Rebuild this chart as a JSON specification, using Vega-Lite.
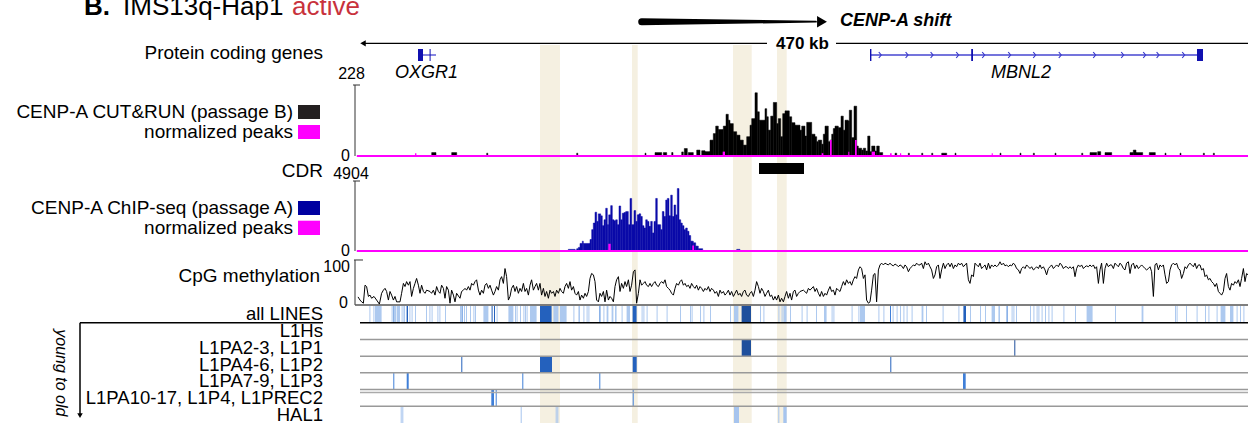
{
"$schema": "https://vega.github.io/schema/vega-lite/v6.json",
"background": "white",
"padding": 0,
"spacing": 0,
"bounds": "flush",
"config": {"view": {"stroke": null}, "axis": {"disable": true}, "legend": {"disable": true}, "font": "Liberation Sans", "text": {"font": "Liberation Sans", "fontSize": 19, "color": "black"}},
"resolve": {"scale": {"y": "independent", "color": "independent", "size": "independent"}},
"data": {"values": [{}]},
"datasets": {
"hl": [{"s":91,"e":101},{"s":137,"e":139.85},{"s":187.5,"e":196.85},{"s":209.5,"e":214.35}],
"shift": [{"k":141.85,"f":1},{"k":229,"f":0.25}],
"scalebar": [{"s":2,"e":204.5},{"s":239,"e":445}],
"exons": [{"s":30,"e":32.5},{"s":35.8,"e":36.3},{"s":256,"e":256.7},{"s":306.6,"e":307.5},{"s":419.5,"e":422.5}],
"introns": [{"s":32.5,"e":39},{"s":256.3,"e":422}],
"chev": [{"k":261},{"k":274.4},{"k":286.9},{"k":299.7},{"k":312.7},{"k":325.7},{"k":338.2},{"k":351},{"k":368.2},{"k":382.2},{"k":393.2},{"k":399.9},{"k":412.7}],
"glab": [{"g":"OXGR1","k":34.3},{"g":"MBNL2","k":331.5}],
"cut": [{"s":36.85,"e":39,"v":11},{"s":46.85,"e":49.35,"v":11},{"s":64.35,"e":64.9,"v":9},{"s":109.35,"e":109.9,"v":9},{"s":143.5,"e":144,"v":9},{"s":148.5,"e":151.85,"v":11},{"s":152.65,"e":154.35,"v":11},{"s":156.85,"e":157.5,"v":11},{"s":161.85,"e":162.65,"v":13},{"s":163.15,"e":164.65,"v":24},{"s":165.15,"e":167.65,"v":11},{"s":169.35,"e":171,"v":19},{"s":171.85,"e":173.5,"v":17},{"s":173.5,"e":176,"v":14},{"s":176,"e":177.65,"v":51},{"s":177.65,"e":178.85,"v":72},{"s":178.85,"e":180.15,"v":96},{"s":180.15,"e":182.65,"v":85},{"s":182.65,"e":184,"v":96},{"s":184,"e":185.15,"v":134},{"s":185.15,"e":186,"v":115},{"s":186,"e":187.65,"v":104},{"s":187.65,"e":189.35,"v":78},{"s":189.35,"e":191,"v":67},{"s":191,"e":192.65,"v":51},{"s":192.65,"e":194.35,"v":35},{"s":194.35,"e":196,"v":62},{"s":196,"e":196.85,"v":99},{"s":196.85,"e":198.5,"v":120},{"s":198.5,"e":199.65,"v":203},{"s":199.65,"e":200.65,"v":142},{"s":200.65,"e":203.5,"v":115},{"s":203.5,"e":204.35,"v":152},{"s":204.35,"e":205.15,"v":126},{"s":205.15,"e":206.35,"v":83},{"s":206.35,"e":207.65,"v":128},{"s":207.65,"e":209.35,"v":172},{"s":209.35,"e":210.15,"v":104},{"s":210.15,"e":211.35,"v":120},{"s":211.35,"e":212.35,"v":62},{"s":212.35,"e":213.5,"v":136},{"s":213.5,"e":215.65,"v":145},{"s":215.65,"e":216.85,"v":126},{"s":216.85,"e":218.5,"v":107},{"s":218.5,"e":221,"v":99},{"s":221,"e":221.85,"v":83},{"s":221.85,"e":223.5,"v":96},{"s":223.5,"e":224.35,"v":64},{"s":224.35,"e":226.85,"v":108},{"s":226.85,"e":228.5,"v":70},{"s":228.5,"e":229.35,"v":62},{"s":229.35,"e":230.15,"v":46},{"s":230.15,"e":231.85,"v":51},{"s":231.85,"e":232.65,"v":38},{"s":232.65,"e":233.5,"v":70},{"s":233.5,"e":235.15,"v":96},{"s":235.15,"e":236,"v":46},{"s":236,"e":236.85,"v":51},{"s":236.85,"e":237.65,"v":70},{"s":237.65,"e":238.5,"v":88},{"s":238.5,"e":240.15,"v":96},{"s":240.15,"e":241.5,"v":91},{"s":241.5,"e":242.65,"v":128},{"s":242.65,"e":243.5,"v":83},{"s":243.5,"e":245.15,"v":115},{"s":245.15,"e":245.65,"v":112},{"s":245.65,"e":246.85,"v":147},{"s":246.85,"e":248,"v":59},{"s":248,"e":249.35,"v":160},{"s":249.35,"e":250.15,"v":32},{"s":250.15,"e":251.85,"v":25},{"s":251.85,"e":252.65,"v":19},{"s":252.65,"e":253.85,"v":25},{"s":253.85,"e":254.85,"v":16},{"s":254.85,"e":256,"v":64},{"s":256,"e":256.85,"v":14},{"s":256.85,"e":258.5,"v":32},{"s":258.5,"e":259.35,"v":16},{"s":259.35,"e":260.65,"v":32},{"s":260.65,"e":262.35,"v":11},{"s":268.5,"e":269.35,"v":9},{"s":275.15,"e":275.7,"v":9},{"s":281.85,"e":282.4,"v":9},{"s":286.85,"e":287.4,"v":9},{"s":291.85,"e":294.35,"v":9},{"s":298.5,"e":299,"v":9},{"s":321,"e":321.5,"v":9},{"s":331,"e":331.5,"v":9},{"s":337.65,"e":338.2,"v":9},{"s":348.5,"e":349,"v":9},{"s":361.85,"e":362.4,"v":9},{"s":366,"e":369.35,"v":11},{"s":369.85,"e":371.35,"v":14},{"s":373.5,"e":376.85,"v":11},{"s":386,"e":387.65,"v":11},{"s":387.65,"e":389,"v":19},{"s":389,"e":392.35,"v":11},{"s":395.65,"e":398.65,"v":11},{"s":403.5,"e":404,"v":9},{"s":411,"e":411.5,"v":9},{"s":422.65,"e":423.2,"v":9},{"s":427.65,"e":428.2,"v":9}],
"cutpk": [{"s":28.5,"e":29.2,"v":9},{"s":182.35,"e":183.5,"v":14},{"s":231.85,"e":232.65,"v":9},{"s":236,"e":236.85,"v":51},{"s":245.15,"e":245.65,"v":14},{"s":248.5,"e":249.35,"v":51},{"s":256.85,"e":258.5,"v":14},{"s":266,"e":266.85,"v":9},{"s":271,"e":271.6,"v":9},{"s":316.85,"e":317.4,"v":9}],
"chip": [{"s":105.15,"e":108.5,"v":115},{"s":108.5,"e":109.35,"v":69},{"s":109.35,"e":110.15,"v":161},{"s":110.15,"e":111,"v":253},{"s":111,"e":112.15,"v":529},{"s":112.15,"e":112.65,"v":690},{"s":112.65,"e":116,"v":529},{"s":116,"e":116.85,"v":806},{"s":116.85,"e":117.65,"v":1496},{"s":117.65,"e":118.5,"v":1957},{"s":118.5,"e":119.35,"v":2716},{"s":119.35,"e":120.15,"v":2072},{"s":120.15,"e":121.35,"v":2601},{"s":121.35,"e":122.15,"v":2463},{"s":122.15,"e":123,"v":1773},{"s":123,"e":123.85,"v":2187},{"s":123.85,"e":124.65,"v":2993},{"s":124.65,"e":125.35,"v":1842},{"s":125.35,"e":126.35,"v":2532},{"s":126.35,"e":127.15,"v":3177},{"s":127.15,"e":128,"v":2187},{"s":128,"e":128.85,"v":2118},{"s":128.85,"e":129.65,"v":2187},{"s":129.65,"e":130.5,"v":1842},{"s":130.5,"e":131.35,"v":3154},{"s":131.35,"e":132.15,"v":2187},{"s":132.15,"e":133,"v":2647},{"s":133,"e":133.85,"v":2693},{"s":133.85,"e":135.15,"v":2762},{"s":135.15,"e":136,"v":1842},{"s":136,"e":136.85,"v":3683},{"s":136.85,"e":138,"v":1842},{"s":138,"e":138.85,"v":2831},{"s":138.85,"e":139.65,"v":2072},{"s":139.65,"e":140.5,"v":2532},{"s":140.5,"e":141.35,"v":2601},{"s":141.35,"e":142.15,"v":2417},{"s":142.15,"e":143,"v":1773},{"s":143,"e":143.85,"v":1611},{"s":143.85,"e":144.65,"v":2187},{"s":144.65,"e":145.5,"v":2072},{"s":145.5,"e":146.35,"v":1727},{"s":146.35,"e":147.15,"v":2072},{"s":147.15,"e":148,"v":1266},{"s":148,"e":148.85,"v":2072},{"s":148.85,"e":149.65,"v":3683},{"s":149.65,"e":150.5,"v":1842},{"s":150.5,"e":151.35,"v":1842},{"s":151.35,"e":152.15,"v":1496},{"s":152.15,"e":153,"v":2762},{"s":153,"e":153.85,"v":2417},{"s":153.85,"e":154.65,"v":3568},{"s":154.65,"e":155.5,"v":3683},{"s":155.5,"e":156.35,"v":2463},{"s":156.35,"e":157.15,"v":3913},{"s":157.15,"e":158,"v":2417},{"s":158,"e":158.85,"v":3223},{"s":158.85,"e":159.65,"v":2532},{"s":159.65,"e":160.5,"v":4374},{"s":160.5,"e":161.35,"v":2187},{"s":161.35,"e":162.15,"v":1957},{"s":162.15,"e":163,"v":1773},{"s":163,"e":163.85,"v":1496},{"s":163.85,"e":164.65,"v":1611},{"s":164.65,"e":165.5,"v":1381},{"s":165.5,"e":166.35,"v":1082},{"s":166.35,"e":167.65,"v":690},{"s":167.65,"e":168.85,"v":575},{"s":168.85,"e":170.15,"v":345},{"s":170.15,"e":172.35,"v":161},{"s":189.35,"e":191,"v":115}],
"chippk": [{"s":125.15,"e":126.35,"v":506},{"s":167.15,"e":168,"v":391}],
"meth": [{"k":0,"m":18},{"k":1,"m":11},{"k":1.8,"m":7},{"k":2.7,"m":4},{"k":3.5,"m":44},{"k":4.3,"m":41},{"k":5.2,"m":19},{"k":6,"m":22},{"k":6.8,"m":15},{"k":8,"m":19},{"k":9.3,"m":11},{"k":10.7,"m":2},{"k":11.8,"m":26},{"k":12.7,"m":33},{"k":13.5,"m":37},{"k":14.3,"m":30},{"k":15.2,"m":11},{"k":16,"m":30},{"k":16.8,"m":22},{"k":17.7,"m":11},{"k":18.5,"m":19},{"k":19.3,"m":7},{"k":21,"m":7},{"k":21.8,"m":26},{"k":22.7,"m":48},{"k":23.5,"m":41},{"k":24.3,"m":52},{"k":25.2,"m":44},{"k":26,"m":52},{"k":26.8,"m":19},{"k":27.7,"m":37},{"k":28.5,"m":48},{"k":29.3,"m":59},{"k":30.2,"m":44},{"k":31,"m":26},{"k":31.8,"m":44},{"k":32.7,"m":30},{"k":33.5,"m":26},{"k":34.3,"m":33},{"k":36,"m":30},{"k":36.8,"m":26},{"k":37.7,"m":33},{"k":38.5,"m":22},{"k":39.3,"m":41},{"k":40.2,"m":30},{"k":41,"m":26},{"k":41.8,"m":44},{"k":42.7,"m":37},{"k":43.5,"m":15},{"k":44.3,"m":41},{"k":45.2,"m":33},{"k":46,"m":4},{"k":46.8,"m":33},{"k":47.7,"m":22},{"k":48.5,"m":7},{"k":49.3,"m":26},{"k":51,"m":15},{"k":51.8,"m":30},{"k":52.7,"m":33},{"k":53.5,"m":37},{"k":54.3,"m":33},{"k":55.2,"m":41},{"k":56,"m":33},{"k":56.8,"m":48},{"k":57.7,"m":44},{"k":58.5,"m":52},{"k":59.3,"m":56},{"k":60.2,"m":33},{"k":61,"m":22},{"k":61.8,"m":33},{"k":62.7,"m":26},{"k":63.5,"m":44},{"k":64.3,"m":48},{"k":65.2,"m":37},{"k":66,"m":44},{"k":66.8,"m":33},{"k":67.7,"m":22},{"k":68.5,"m":30},{"k":69.3,"m":41},{"k":70.2,"m":33},{"k":71,"m":56},{"k":71.8,"m":63},{"k":72.7,"m":48},{"k":73.5,"m":81},{"k":74.3,"m":63},{"k":75.2,"m":11},{"k":76,"m":19},{"k":76.8,"m":37},{"k":77.7,"m":44},{"k":78.5,"m":30},{"k":79.3,"m":41},{"k":80.2,"m":26},{"k":81,"m":37},{"k":81.8,"m":30},{"k":82.7,"m":48},{"k":83.5,"m":30},{"k":84.3,"m":37},{"k":85.2,"m":22},{"k":86,"m":44},{"k":86.8,"m":56},{"k":87.7,"m":33},{"k":88.5,"m":41},{"k":89.3,"m":48},{"k":90.2,"m":33},{"k":91,"m":48},{"k":91.8,"m":22},{"k":92.7,"m":37},{"k":93.5,"m":19},{"k":94.3,"m":30},{"k":95.2,"m":15},{"k":96,"m":33},{"k":96.8,"m":26},{"k":97.7,"m":30},{"k":98.5,"m":19},{"k":99.3,"m":33},{"k":100.2,"m":26},{"k":101,"m":37},{"k":101.8,"m":30},{"k":102.7,"m":26},{"k":103.5,"m":41},{"k":104.3,"m":48},{"k":105.2,"m":37},{"k":106,"m":52},{"k":106.8,"m":33},{"k":107.7,"m":41},{"k":108.5,"m":26},{"k":109.3,"m":22},{"k":110.2,"m":30},{"k":111,"m":11},{"k":111.8,"m":22},{"k":112.7,"m":15},{"k":113.5,"m":26},{"k":114.3,"m":19},{"k":115.2,"m":30},{"k":116,"m":59},{"k":116.8,"m":70},{"k":117.7,"m":67},{"k":118.5,"m":52},{"k":119.3,"m":11},{"k":120.2,"m":7},{"k":121,"m":26},{"k":121.8,"m":19},{"k":122.7,"m":30},{"k":123.5,"m":7},{"k":124.3,"m":33},{"k":125.2,"m":11},{"k":126,"m":19},{"k":126.8,"m":15},{"k":127.7,"m":7},{"k":128.5,"m":41},{"k":129.3,"m":56},{"k":130.2,"m":63},{"k":131,"m":30},{"k":131.8,"m":48},{"k":132.7,"m":37},{"k":133.5,"m":52},{"k":134.3,"m":41},{"k":135.2,"m":56},{"k":136,"m":30},{"k":136.8,"m":44},{"k":137.7,"m":74},{"k":138.5,"m":78},{"k":139.3,"m":4},{"k":140.2,"m":26},{"k":141,"m":56},{"k":141.8,"m":44},{"k":142.7,"m":48},{"k":143.5,"m":52},{"k":144.3,"m":44},{"k":145.2,"m":41},{"k":146,"m":48},{"k":146.8,"m":41},{"k":147.7,"m":48},{"k":148.5,"m":52},{"k":149.3,"m":44},{"k":150.2,"m":41},{"k":151,"m":48},{"k":151.8,"m":52},{"k":152.7,"m":48},{"k":153.5,"m":56},{"k":154.3,"m":41},{"k":155.2,"m":37},{"k":156,"m":33},{"k":156.8,"m":26},{"k":157.7,"m":22},{"k":158.5,"m":37},{"k":159.3,"m":48},{"k":160.2,"m":44},{"k":161,"m":52},{"k":161.8,"m":56},{"k":162.7,"m":44},{"k":163.5,"m":48},{"k":164.3,"m":41},{"k":165.2,"m":44},{"k":166,"m":37},{"k":166.8,"m":48},{"k":167.7,"m":41},{"k":168.5,"m":37},{"k":169.3,"m":44},{"k":170.2,"m":33},{"k":171,"m":41},{"k":171.8,"m":37},{"k":172.7,"m":30},{"k":173.5,"m":37},{"k":174.3,"m":33},{"k":175.2,"m":41},{"k":176,"m":30},{"k":176.8,"m":37},{"k":177.7,"m":33},{"k":178.5,"m":26},{"k":179.3,"m":30},{"k":180.2,"m":19},{"k":181,"m":33},{"k":181.8,"m":26},{"k":182.7,"m":30},{"k":183.5,"m":22},{"k":184.3,"m":26},{"k":185.2,"m":33},{"k":186,"m":22},{"k":186.8,"m":30},{"k":187.7,"m":19},{"k":188.5,"m":26},{"k":189.3,"m":33},{"k":190.2,"m":22},{"k":191,"m":26},{"k":191.8,"m":19},{"k":192.7,"m":30},{"k":193.5,"m":33},{"k":194.3,"m":22},{"k":195.2,"m":19},{"k":196,"m":26},{"k":196.8,"m":30},{"k":197.7,"m":19},{"k":198.5,"m":33},{"k":199.3,"m":52},{"k":200.2,"m":41},{"k":201,"m":26},{"k":201.8,"m":37},{"k":202.7,"m":30},{"k":203.5,"m":19},{"k":204.3,"m":26},{"k":205.2,"m":33},{"k":206,"m":19},{"k":206.8,"m":22},{"k":207.7,"m":11},{"k":208.5,"m":19},{"k":209.3,"m":11},{"k":210.2,"m":22},{"k":211,"m":7},{"k":211.8,"m":15},{"k":212.7,"m":7},{"k":213.5,"m":19},{"k":214.3,"m":30},{"k":215.2,"m":15},{"k":216,"m":26},{"k":216.8,"m":11},{"k":217.7,"m":30},{"k":218.5,"m":33},{"k":219.3,"m":19},{"k":220.2,"m":26},{"k":221,"m":30},{"k":222.7,"m":33},{"k":224.3,"m":26},{"k":225.2,"m":37},{"k":226,"m":33},{"k":227.7,"m":41},{"k":228.5,"m":30},{"k":229.3,"m":37},{"k":230.2,"m":26},{"k":231,"m":19},{"k":231.8,"m":30},{"k":232.7,"m":19},{"k":233.5,"m":26},{"k":234.3,"m":22},{"k":235.2,"m":33},{"k":236,"m":41},{"k":236.8,"m":30},{"k":237.7,"m":33},{"k":238.5,"m":22},{"k":239.3,"m":37},{"k":240.2,"m":33},{"k":241,"m":30},{"k":241.8,"m":41},{"k":242.7,"m":52},{"k":243.5,"m":44},{"k":244.3,"m":56},{"k":245.2,"m":48},{"k":246,"m":52},{"k":246.8,"m":44},{"k":247.7,"m":56},{"k":248.5,"m":63},{"k":249.3,"m":59},{"k":250.2,"m":78},{"k":251,"m":85},{"k":251.8,"m":81},{"k":252.7,"m":59},{"k":253.5,"m":67},{"k":254.3,"m":11},{"k":255.2,"m":4},{"k":256,"m":7},{"k":256.8,"m":33},{"k":257.7,"m":67},{"k":258.5,"m":70},{"k":259.3,"m":7},{"k":260.2,"m":78},{"k":261,"m":89},{"k":261.8,"m":93},{"k":262.7,"m":89},{"k":263.5,"m":93},{"k":264.3,"m":91},{"k":265.2,"m":89},{"k":266,"m":93},{"k":266.8,"m":89},{"k":267.7,"m":87},{"k":268.5,"m":91},{"k":269.3,"m":89},{"k":270.2,"m":85},{"k":271,"m":89},{"k":271.8,"m":87},{"k":272.7,"m":81},{"k":273.5,"m":89},{"k":274.3,"m":85},{"k":275.2,"m":74},{"k":276,"m":81},{"k":276.8,"m":85},{"k":277.7,"m":89},{"k":278.5,"m":87},{"k":279.3,"m":93},{"k":280.2,"m":89},{"k":281,"m":89},{"k":281.8,"m":93},{"k":282.7,"m":81},{"k":283.5,"m":96},{"k":284.3,"m":89},{"k":285.2,"m":93},{"k":286,"m":85},{"k":286.8,"m":78},{"k":287.7,"m":59},{"k":288.5,"m":67},{"k":289.3,"m":85},{"k":290.2,"m":89},{"k":291,"m":59},{"k":291.8,"m":78},{"k":292.7,"m":93},{"k":293.5,"m":81},{"k":294.3,"m":89},{"k":295.2,"m":93},{"k":296,"m":85},{"k":296.8,"m":93},{"k":297.7,"m":81},{"k":298.5,"m":89},{"k":299.3,"m":85},{"k":300.2,"m":93},{"k":301,"m":89},{"k":301.8,"m":93},{"k":302.7,"m":85},{"k":303.5,"m":89},{"k":304.3,"m":93},{"k":305.2,"m":56},{"k":306,"m":48},{"k":306.8,"m":67},{"k":307.7,"m":63},{"k":308.5,"m":93},{"k":309.3,"m":89},{"k":310.2,"m":85},{"k":311,"m":93},{"k":311.8,"m":81},{"k":312.7,"m":85},{"k":313.5,"m":89},{"k":314.3,"m":78},{"k":315.2,"m":93},{"k":316,"m":81},{"k":316.8,"m":89},{"k":317.7,"m":85},{"k":318.5,"m":89},{"k":319.3,"m":85},{"k":320.2,"m":89},{"k":321,"m":96},{"k":321.8,"m":89},{"k":322.7,"m":93},{"k":323.5,"m":87},{"k":324.3,"m":89},{"k":325.2,"m":85},{"k":326,"m":89},{"k":326.8,"m":87},{"k":327.7,"m":93},{"k":328.5,"m":89},{"k":329.3,"m":81},{"k":330.2,"m":78},{"k":331,"m":70},{"k":331.8,"m":81},{"k":332.7,"m":85},{"k":333.5,"m":81},{"k":334.3,"m":89},{"k":335.2,"m":85},{"k":336,"m":81},{"k":336.8,"m":85},{"k":337.7,"m":78},{"k":338.5,"m":81},{"k":339.3,"m":85},{"k":340.2,"m":81},{"k":341,"m":89},{"k":341.8,"m":81},{"k":342.7,"m":85},{"k":343.5,"m":78},{"k":344.3,"m":67},{"k":345.2,"m":81},{"k":346,"m":85},{"k":346.8,"m":89},{"k":347.7,"m":81},{"k":348.5,"m":85},{"k":349.3,"m":89},{"k":350.2,"m":85},{"k":351,"m":93},{"k":351.8,"m":89},{"k":352.7,"m":81},{"k":353.5,"m":85},{"k":354.3,"m":85},{"k":355.2,"m":81},{"k":356,"m":85},{"k":356.8,"m":81},{"k":357.7,"m":85},{"k":358.5,"m":63},{"k":359.3,"m":81},{"k":360.2,"m":89},{"k":361,"m":85},{"k":361.8,"m":89},{"k":362.7,"m":81},{"k":363.5,"m":85},{"k":364.3,"m":87},{"k":365.2,"m":85},{"k":366,"m":89},{"k":366.8,"m":85},{"k":367.7,"m":89},{"k":368.5,"m":81},{"k":369.3,"m":85},{"k":370.2,"m":48},{"k":371,"m":78},{"k":371.8,"m":93},{"k":372.7,"m":48},{"k":373.5,"m":81},{"k":374.3,"m":93},{"k":375.2,"m":85},{"k":376,"m":89},{"k":376.8,"m":89},{"k":377.7,"m":81},{"k":378.5,"m":93},{"k":379.3,"m":89},{"k":380.2,"m":85},{"k":381,"m":93},{"k":381.8,"m":89},{"k":382.7,"m":81},{"k":383.5,"m":78},{"k":384.3,"m":93},{"k":385.2,"m":96},{"k":386,"m":70},{"k":386.8,"m":89},{"k":387.7,"m":93},{"k":388.5,"m":81},{"k":389.3,"m":89},{"k":390.2,"m":81},{"k":391,"m":85},{"k":391.8,"m":89},{"k":392.7,"m":85},{"k":393.5,"m":81},{"k":394.3,"m":78},{"k":395.2,"m":81},{"k":396,"m":85},{"k":396.8,"m":74},{"k":397.7,"m":19},{"k":398.5,"m":89},{"k":399.3,"m":93},{"k":400.2,"m":78},{"k":401,"m":89},{"k":401.8,"m":85},{"k":402.7,"m":89},{"k":403.5,"m":67},{"k":404.3,"m":48},{"k":405.2,"m":52},{"k":406,"m":78},{"k":406.8,"m":89},{"k":407.7,"m":93},{"k":408.5,"m":89},{"k":409.3,"m":93},{"k":410.2,"m":81},{"k":411,"m":78},{"k":411.8,"m":59},{"k":412.7,"m":70},{"k":413.5,"m":85},{"k":414.3,"m":81},{"k":415.2,"m":89},{"k":416,"m":93},{"k":416.8,"m":89},{"k":417.7,"m":85},{"k":418.5,"m":93},{"k":419.3,"m":81},{"k":420.2,"m":89},{"k":421,"m":89},{"k":421.8,"m":78},{"k":422.7,"m":81},{"k":423.5,"m":63},{"k":424.3,"m":67},{"k":425.2,"m":56},{"k":426,"m":59},{"k":426.8,"m":52},{"k":427.7,"m":48},{"k":428.5,"m":41},{"k":429.3,"m":48},{"k":430.2,"m":30},{"k":431,"m":26},{"k":431.8,"m":22},{"k":432.7,"m":30},{"k":433.5,"m":59},{"k":434.3,"m":70},{"k":435.2,"m":41},{"k":436,"m":33},{"k":436.8,"m":48},{"k":437.7,"m":44},{"k":438.5,"m":52},{"k":439.3,"m":48},{"k":440.2,"m":56},{"k":441,"m":41},{"k":441.8,"m":59},{"k":442.7,"m":81},{"k":443.5,"m":52},{"k":444.3,"m":70},{"k":445,"m":67}],
"rows": [{"r":"all LINES"},{"r":"L1Hs"},{"r":"L1PA2-3, L1P1"},{"r":"L1PA4-6, L1P2"},{"r":"L1PA7-9, L1P3"},{"r":"L1PA10-17, L1P4, L1PREC2"},{"r":"HAL1"}],
"seps": [{"r":"L1PA2-3, L1P1"},{"r":"L1PA4-6, L1P2"},{"r":"L1PA7-9, L1P3"},{"r":"L1PA10-17, L1P4, L1PREC2"},{"r":"HAL1"}],
"lines": [
{"r":"all LINES","s":5.7,"e":6.2,"c":"light"},{"r":"all LINES","s":7.7,"e":8.2,"c":"light"},{"r":"all LINES","s":16.8,"e":17.3,"c":"light"},{"r":"all LINES","s":18.5,"e":19,"c":"light"},{"r":"all LINES","s":21.8,"e":22.3,"c":"light"},{"r":"all LINES","s":25.7,"e":26.2,"c":"light"},{"r":"all LINES","s":26.8,"e":27.3,"c":"light"},{"r":"all LINES","s":28.5,"e":29,"c":"light"},{"r":"all LINES","s":34,"e":34.5,"c":"light"},{"r":"all LINES","s":35.7,"e":36.2,"c":"light"},{"r":"all LINES","s":36.8,"e":37.3,"c":"light"},{"r":"all LINES","s":39.7,"e":40.2,"c":"light"},{"r":"all LINES","s":40.7,"e":41.2,"c":"light"},{"r":"all LINES","s":43.5,"e":44,"c":"light"},{"r":"all LINES","s":51,"e":51.5,"c":"light"},{"r":"all LINES","s":53,"e":53.5,"c":"light"},{"r":"all LINES","s":54,"e":54.5,"c":"light"},{"r":"all LINES","s":56,"e":56.5,"c":"light"},{"r":"all LINES","s":57.7,"e":58.2,"c":"light"},{"r":"all LINES","s":58.5,"e":59,"c":"light"},{"r":"all LINES","s":69.3,"e":69.8,"c":"light"},{"r":"all LINES","s":78.5,"e":79,"c":"light"},{"r":"all LINES","s":79.3,"e":79.8,"c":"light"},{"r":"all LINES","s":81,"e":81.5,"c":"light"},{"r":"all LINES","s":82.7,"e":83.2,"c":"light"},{"r":"all LINES","s":83.5,"e":84,"c":"light"},{"r":"all LINES","s":84.3,"e":84.8,"c":"light"},{"r":"all LINES","s":107.7,"e":108.2,"c":"light"},{"r":"all LINES","s":112.7,"e":113.2,"c":"light"},{"r":"all LINES","s":114.3,"e":114.8,"c":"light"},{"r":"all LINES","s":115.2,"e":115.7,"c":"light"},{"r":"all LINES","s":122.7,"e":123.2,"c":"light"},{"r":"all LINES","s":131.8,"e":132.3,"c":"light"},{"r":"all LINES","s":141.8,"e":142.3,"c":"light"},{"r":"all LINES","s":142.7,"e":143.2,"c":"light"},{"r":"all LINES","s":144.3,"e":144.8,"c":"light"},{"r":"all LINES","s":149.3,"e":149.8,"c":"light"},{"r":"all LINES","s":154.3,"e":154.8,"c":"light"},{"r":"all LINES","s":161,"e":161.5,"c":"light"},{"r":"all LINES","s":166,"e":166.5,"c":"light"},{"r":"all LINES","s":166.8,"e":167.3,"c":"light"},{"r":"all LINES","s":171,"e":171.5,"c":"light"},{"r":"all LINES","s":172.7,"e":173.2,"c":"light"},{"r":"all LINES","s":176,"e":176.5,"c":"light"},{"r":"all LINES","s":186,"e":186.5,"c":"light"},{"r":"all LINES","s":201,"e":201.5,"c":"light"},{"r":"all LINES","s":202.7,"e":203.2,"c":"light"},{"r":"all LINES","s":210.2,"e":210.7,"c":"light"},{"r":"all LINES","s":211.8,"e":212.3,"c":"light"},{"r":"all LINES","s":216,"e":216.5,"c":"light"},{"r":"all LINES","s":221.8,"e":222.3,"c":"light"},{"r":"all LINES","s":224.3,"e":224.8,"c":"light"},{"r":"all LINES","s":229,"e":229.5,"c":"light"},{"r":"all LINES","s":236.8,"e":237.3,"c":"light"},{"r":"all LINES","s":237.7,"e":238.2,"c":"light"},{"r":"all LINES","s":246.8,"e":247.3,"c":"light"},{"r":"all LINES","s":250.2,"e":250.7,"c":"light"},{"r":"all LINES","s":260.2,"e":260.7,"c":"light"},{"r":"all LINES","s":262.7,"e":263.2,"c":"light"},{"r":"all LINES","s":267.3,"e":267.8,"c":"light"},{"r":"all LINES","s":269.3,"e":269.8,"c":"light"},{"r":"all LINES","s":271,"e":271.5,"c":"light"},{"r":"all LINES","s":272.7,"e":273.2,"c":"light"},{"r":"all LINES","s":274.3,"e":274.8,"c":"light"},{"r":"all LINES","s":276.8,"e":277.3,"c":"light"},{"r":"all LINES","s":284,"e":284.5,"c":"light"},{"r":"all LINES","s":292.3,"e":292.8,"c":"light"},{"r":"all LINES","s":300.2,"e":300.7,"c":"light"},{"r":"all LINES","s":306,"e":306.5,"c":"light"},{"r":"all LINES","s":311,"e":311.5,"c":"light"},{"r":"all LINES","s":313.5,"e":314,"c":"light"},{"r":"all LINES","s":326.8,"e":327.3,"c":"light"},{"r":"all LINES","s":327.7,"e":328.2,"c":"light"},{"r":"all LINES","s":329,"e":329.5,"c":"light"},{"r":"all LINES","s":336,"e":336.5,"c":"light"},{"r":"all LINES","s":337.7,"e":338.2,"c":"light"},{"r":"all LINES","s":339.3,"e":339.8,"c":"light"},{"r":"all LINES","s":340.2,"e":340.7,"c":"light"},{"r":"all LINES","s":341.8,"e":342.3,"c":"light"},{"r":"all LINES","s":343.5,"e":344,"c":"light"},{"r":"all LINES","s":345.2,"e":345.7,"c":"light"},{"r":"all LINES","s":346.8,"e":347.3,"c":"light"},{"r":"all LINES","s":352.7,"e":353.2,"c":"light"},{"r":"all LINES","s":358.5,"e":359,"c":"light"},{"r":"all LINES","s":378.5,"e":379,"c":"light"},{"r":"all LINES","s":408.5,"e":409,"c":"light"},{"r":"all LINES","s":409.3,"e":409.8,"c":"light"},{"r":"all LINES","s":414,"e":414.5,"c":"light"},{"r":"all LINES","s":419.3,"e":419.8,"c":"light"},{"r":"all LINES","s":423.5,"e":424,"c":"light"},{"r":"all LINES","s":425.2,"e":425.7,"c":"light"},{"r":"all LINES","s":429.3,"e":429.8,"c":"light"},{"r":"all LINES","s":439.3,"e":439.8,"c":"light"},{"r":"all LINES","s":441,"e":441.5,"c":"light"},{"r":"all LINES","s":442.7,"e":443.2,"c":"light"},
{"r":"all LINES","s":8.5,"e":11.8,"c":"light"},{"r":"all LINES","s":19.3,"e":21,"c":"light"},{"r":"all LINES","s":22.7,"e":23.5,"c":"light"},{"r":"all LINES","s":62.7,"e":65.2,"c":"light"},{"r":"all LINES","s":75.2,"e":77.7,"c":"light"},{"r":"all LINES","s":86,"e":89.3,"c":"light"},{"r":"all LINES","s":97.7,"e":100.2,"c":"light"},{"r":"all LINES","s":101,"e":104.3,"c":"light"},{"r":"all LINES","s":110.2,"e":111,"c":"light"},{"r":"all LINES","s":124.3,"e":125.2,"c":"light"},{"r":"all LINES","s":126.8,"e":127.7,"c":"light"},{"r":"all LINES","s":128.5,"e":129.3,"c":"light"},{"r":"all LINES","s":134.3,"e":136,"c":"light"},{"r":"all LINES","s":188,"e":190.2,"c":"light"},{"r":"all LINES","s":212.7,"e":214.3,"c":"light"},{"r":"all LINES","s":233,"e":234.3,"c":"light"},{"r":"all LINES","s":251,"e":253.5,"c":"light"},{"r":"all LINES","s":281.8,"e":282.7,"c":"light"},{"r":"all LINES","s":316.8,"e":318.5,"c":"light"},{"r":"all LINES","s":320.2,"e":321,"c":"light"},{"r":"all LINES","s":364.3,"e":367.3,"c":"light"},{"r":"all LINES","s":391.8,"e":392.7,"c":"light"},{"r":"all LINES","s":431.3,"e":433.7,"c":"light"},{"r":"all LINES","s":436,"e":437.7,"c":"light"},
{"r":"all LINES","s":17.7,"e":18.2,"c":"mid"},{"r":"all LINES","s":51.8,"e":52.3,"c":"mid"},{"r":"all LINES","s":120.7,"e":121.2,"c":"mid"},{"r":"all LINES","s":266,"e":266.5,"c":"mid"},{"r":"all LINES","s":324.3,"e":324.8,"c":"mid"},
{"r":"all LINES","s":24.3,"e":25,"c":"dark"},{"r":"all LINES","s":66.8,"e":67.3,"c":"dark"},{"r":"all LINES","s":68,"e":68.5,"c":"dark"},{"r":"all LINES","s":91,"e":96.8,"c":"dark"},{"r":"all LINES","s":137.3,"e":139.3,"c":"dark"},{"r":"all LINES","s":302.7,"e":304,"c":"dark"},{"r":"all LINES","s":191.8,"e":196.5,"c":"darker"},
{"r":"L1PA2-3, L1P1","s":191.85,"e":196.5,"c":"darker"},{"r":"L1PA2-3, L1P1","s":328.15,"e":328.65,"c":"darker"},
{"r":"L1PA4-6, L1P2","s":51.65,"e":52.15,"c":"dark"},{"r":"L1PA4-6, L1P2","s":91,"e":97,"c":"dark"},{"r":"L1PA4-6, L1P2","s":137.35,"e":139.35,"c":"dark"},{"r":"L1PA4-6, L1P2","s":266.15,"e":266.65,"c":"dark"},
{"r":"L1PA7-9, L1P3","s":17.65,"e":18.15,"c":"mid"},{"r":"L1PA7-9, L1P3","s":24.35,"e":25.35,"c":"mid"},{"r":"L1PA7-9, L1P3","s":82.15,"e":82.65,"c":"mid"},{"r":"L1PA7-9, L1P3","s":120.65,"e":121.15,"c":"mid"},{"r":"L1PA7-9, L1P3","s":302.5,"e":303.85,"c":"mid"},
{"r":"L1PA10-17, L1P4, L1PREC2","s":66.65,"e":68,"c":"mid"},{"r":"L1PA10-17, L1P4, L1PREC2","s":68.85,"e":69.35,"c":"mid"},{"r":"L1PA10-17, L1P4, L1PREC2","s":137.35,"e":137.85,"c":"mid"},
{"r":"HAL1","s":21.35,"e":21.85,"c":"hal"},{"r":"HAL1","s":22.15,"e":22.65,"c":"hal"},{"r":"HAL1","s":81.35,"e":81.85,"c":"hal"},{"r":"HAL1","s":98.85,"e":99.35,"c":"hal"},{"r":"HAL1","s":99.65,"e":100.15,"c":"hal"},{"r":"HAL1","s":188,"e":190.5,"c":"hal"},{"r":"HAL1","s":210.15,"e":210.65,"c":"hal"},{"r":"HAL1","s":212.65,"e":214.35,"c":"hal"}
]
},
"vconcat": [
{"width": 1248, "height": 45, "layer": [
 {"mark": {"type": "text", "text": "B.", "fontWeight": "bold", "fontSize": 26, "align": "left", "baseline": "alphabetic", "clip": true},
  "encoding": {"x": {"datum": -137, "type": "quantitative", "scale": {"domain": [-179, 445], "nice": false, "zero": false}}, "y": {"datum": 15, "type": "quantitative", "scale": {"domain": [45, 0], "nice": false, "zero": false}}}},
 {"mark": {"type": "text", "text": "IMS13q-Hap1", "fontSize": 26, "align": "left", "baseline": "alphabetic", "clip": true}, "encoding": {"x": {"datum": -117.5}, "y": {"datum": 15}}},
 {"mark": {"type": "text", "text": "active", "fontSize": 26, "align": "left", "baseline": "alphabetic", "color": "#c8323c", "clip": true}, "encoding": {"x": {"datum": -33}, "y": {"datum": 15}}},
 {"data": {"name": "shift"}, "mark": {"type": "trail", "color": "black"}, "encoding": {"x": {"field": "k", "type": "quantitative"}, "y": {"datum": 21.7}, "size": {"field": "f", "type": "quantitative", "scale": {"domain": [0, 1], "range": [0, 7]}, "legend": null}}},
 {"mark": {"type": "point", "shape": "triangle-right", "filled": true, "color": "black", "size": 130, "opacity": 1}, "encoding": {"x": {"datum": 232}, "y": {"datum": 21.7}}},
 {"mark": {"type": "text", "text": "CENP-A shift", "fontWeight": "bold", "fontStyle": "italic", "fontSize": 18, "align": "left", "baseline": "middle"}, "encoding": {"x": {"datum": 241}, "y": {"datum": 21}}}
]},
{"width": 1248, "height": 35, "layer": [
 {"data": {"name": "hl"}, "mark": {"type": "rect", "color": "#f5f0e1"}, "encoding": {"x": {"field": "s", "type": "quantitative", "scale": {"domain": [-179, 445], "nice": false, "zero": false}}, "x2": {"field": "e"}}},
 {"mark": {"type": "text", "text": "Protein coding genes", "align": "right", "baseline": "middle"}, "encoding": {"x": {"datum": -17.5}, "y": {"datum": 53, "type": "quantitative", "scale": {"domain": [80, 45], "nice": false, "zero": false}}}},
 {"data": {"name": "scalebar"}, "mark": {"type": "rule", "color": "black", "strokeWidth": 1.2}, "encoding": {"x": {"field": "s", "type": "quantitative"}, "x2": {"field": "e"}, "y": {"datum": 43.3}}},
 {"mark": {"type": "point", "shape": "triangle-left", "filled": true, "color": "black", "size": 40, "opacity": 1}, "encoding": {"x": {"datum": 2.5}, "y": {"datum": 43.3}}},
 {"mark": {"type": "text", "text": "470 kb", "fontWeight": "bold", "fontSize": 17, "align": "center", "baseline": "middle"}, "encoding": {"x": {"datum": 222.25}, "y": {"datum": 43.5}}},
 {"data": {"name": "introns"}, "mark": {"type": "rule", "color": "#4646d0", "strokeWidth": 1.3}, "encoding": {"x": {"field": "s", "type": "quantitative"}, "x2": {"field": "e"}, "y": {"datum": 55}}},
 {"data": {"name": "exons"}, "mark": {"type": "rect", "color": "#1010b0"}, "encoding": {"x": {"field": "s", "type": "quantitative"}, "x2": {"field": "e"}, "y": {"datum": 49}, "y2": {"datum": 61}}},
 {"data": {"name": "chev"}, "mark": {"type": "point", "shape": "M-0.4,-1L0.4,0L-0.4,1", "filled": false, "color": "#3a3acc", "strokeWidth": 1.2, "size": 36, "opacity": 1}, "encoding": {"x": {"field": "k", "type": "quantitative"}, "y": {"datum": 55}}},
 {"data": {"name": "glab"}, "mark": {"type": "text", "fontStyle": "italic", "fontSize": 18, "align": "center", "baseline": "alphabetic"}, "encoding": {"x": {"field": "k", "type": "quantitative"}, "y": {"datum": 77.5}, "text": {"field": "g"}}}
]},
{"width": 1248, "height": 80, "layer": [
 {"data": {"name": "hl"}, "mark": {"type": "rect", "color": "#f5f0e1"}, "encoding": {"x": {"field": "s", "type": "quantitative", "scale": {"domain": [-179, 445], "nice": false, "zero": false}}, "x2": {"field": "e"}}},
 {"mark": {"type": "rule", "color": "#333", "strokeWidth": 1}, "encoding": {"x": {"datum": -1.5}, "y": {"datum": 0, "type": "quantitative", "scale": {"domain": [-12.85, 244.06], "nice": false, "zero": false}}, "y2": {"datum": 228}}},
 {"mark": {"type": "rule", "color": "#333", "strokeWidth": 1}, "encoding": {"x": {"datum": -2.5}, "x2": {"datum": 1}, "y": {"datum": 228}}},
 {"mark": {"type": "text", "text": "228", "fontSize": 16, "align": "center", "baseline": "alphabetic", "dy": -6}, "encoding": {"x": {"datum": -3.25}, "y": {"datum": 228}}},
 {"mark": {"type": "text", "text": "0", "fontSize": 16, "align": "right", "baseline": "middle"}, "encoding": {"x": {"datum": -4}, "y": {"datum": 0}}},
 {"data": {"name": "cut"}, "mark": {"type": "rect", "color": "black", "stroke": "black", "strokeWidth": 0.5}, "encoding": {"x": {"field": "s", "type": "quantitative"}, "x2": {"field": "e"}, "y": {"field": "v", "type": "quantitative"}, "y2": {"datum": 0}}},
 {"mark": {"type": "rule", "color": "#ff00ff", "strokeWidth": 2}, "encoding": {"x": {"datum": -0.6}, "x2": {"datum": 445}, "y": {"datum": 0}}},
 {"data": {"name": "cutpk"}, "mark": {"type": "rect", "color": "#ff00ff"}, "encoding": {"x": {"field": "s", "type": "quantitative"}, "x2": {"field": "e"}, "y": {"field": "v", "type": "quantitative"}, "y2": {"datum": 0}}},
 {"mark": {"type": "text", "text": "CENP-A CUT&RUN (passage B)", "align": "right", "baseline": "middle"}, "encoding": {"x": {"datum": -32.5}, "y": {"datum": 141.3}}},
 {"mark": {"type": "text", "text": "normalized peaks", "align": "right", "baseline": "middle"}, "encoding": {"x": {"datum": -32.5}, "y": {"datum": 77.1}}},
 {"mark": {"type": "rect", "color": "#231f20"}, "encoding": {"x": {"datum": -30}, "x2": {"datum": -19}, "y": {"datum": 163.8}, "y2": {"datum": 118.8}}},
 {"mark": {"type": "rect", "color": "#ff00ff"}, "encoding": {"x": {"datum": -30}, "x2": {"datum": -19}, "y": {"datum": 99.5}, "y2": {"datum": 54.6}}}
]},
{"width": 1248, "height": 18, "layer": [
 {"data": {"name": "hl"}, "mark": {"type": "rect", "color": "#f5f0e1"}, "encoding": {"x": {"field": "s", "type": "quantitative", "scale": {"domain": [-179, 445], "nice": false, "zero": false}}, "x2": {"field": "e"}}},
 {"mark": {"type": "rect", "color": "black"}, "encoding": {"x": {"datum": 200.5}, "x2": {"datum": 223}, "y": {"datum": 163, "type": "quantitative", "scale": {"domain": [178, 160], "nice": false, "zero": false}}, "y2": {"datum": 174}}},
 {"mark": {"type": "text", "text": "CDR", "align": "right", "baseline": "middle"}, "encoding": {"x": {"datum": -17.5}, "y": {"datum": 170.7}}}
]},
{"width": 1248, "height": 77, "layer": [
 {"data": {"name": "hl"}, "mark": {"type": "rect", "color": "#f5f0e1"}, "encoding": {"x": {"field": "s", "type": "quantitative", "scale": {"domain": [-179, 445], "nice": false, "zero": false}}, "x2": {"field": "e"}}},
 {"mark": {"type": "rule", "color": "#333", "strokeWidth": 1}, "encoding": {"x": {"datum": -1.5}, "y": {"datum": 0, "type": "quantitative", "scale": {"domain": [-280.2, 5114.2], "nice": false, "zero": false}}, "y2": {"datum": 4904}}},
 {"mark": {"type": "rule", "color": "#333", "strokeWidth": 1}, "encoding": {"x": {"datum": -2.5}, "x2": {"datum": 1}, "y": {"datum": 4904}}},
 {"mark": {"type": "text", "text": "4904", "fontSize": 16, "align": "center", "baseline": "alphabetic", "dy": -2}, "encoding": {"x": {"datum": -3.5}, "y": {"datum": 4904}}},
 {"mark": {"type": "text", "text": "0", "fontSize": 16, "align": "right", "baseline": "middle"}, "encoding": {"x": {"datum": -4}, "y": {"datum": 0}}},
 {"data": {"name": "chip"}, "mark": {"type": "rect", "color": "#0a0aa8", "stroke": "#0a0aa8", "strokeWidth": 0.5}, "encoding": {"x": {"field": "s", "type": "quantitative"}, "x2": {"field": "e"}, "y": {"field": "v", "type": "quantitative"}, "y2": {"datum": 0}}},
 {"mark": {"type": "rule", "color": "#ff00ff", "strokeWidth": 2}, "encoding": {"x": {"datum": -0.6}, "x2": {"datum": 445}, "y": {"datum": 0}}},
 {"data": {"name": "chippk"}, "mark": {"type": "rect", "color": "#ff00ff"}, "encoding": {"x": {"field": "s", "type": "quantitative"}, "x2": {"field": "e"}, "y": {"field": "v", "type": "quantitative"}, "y2": {"datum": 0}}},
 {"mark": {"type": "text", "text": "CENP-A ChIP-seq (passage A)", "align": "right", "baseline": "middle"}, "encoding": {"x": {"datum": -32.5}, "y": {"datum": 3012}}},
 {"mark": {"type": "text", "text": "normalized peaks", "align": "right", "baseline": "middle"}, "encoding": {"x": {"datum": -32.5}, "y": {"datum": 1611}}},
 {"mark": {"type": "rect", "color": "#0000a0"}, "encoding": {"x": {"datum": -30}, "x2": {"datum": -19}, "y": {"datum": 3503}, "y2": {"datum": 2522}}},
 {"mark": {"type": "rect", "color": "#ff00ff"}, "encoding": {"x": {"datum": -30}, "x2": {"datum": -19}, "y": {"datum": 2123}, "y2": {"datum": 1121}}}
]},
{"width": 1248, "height": 51, "layer": [
 {"data": {"name": "hl"}, "mark": {"type": "rect", "color": "#f5f0e1"}, "encoding": {"x": {"field": "s", "type": "quantitative", "scale": {"domain": [-179, 445], "nice": false, "zero": false}}, "x2": {"field": "e"}}},
 {"mark": {"type": "rule", "color": "#333", "strokeWidth": 1}, "encoding": {"x": {"datum": -1.5}, "y": {"datum": 0, "type": "quantitative", "scale": {"domain": [-2.22, 111.1], "nice": false, "zero": false}}, "y2": {"datum": 100}}},
 {"mark": {"type": "rule", "color": "#333", "strokeWidth": 1}, "encoding": {"x": {"datum": -2}, "x2": {"datum": 2.5}, "y": {"datum": 100}}},
 {"mark": {"type": "rule", "color": "#555", "strokeWidth": 1.5}, "encoding": {"x": {"datum": -1.5}, "x2": {"datum": 445}, "y": {"datum": 0}}},
 {"data": {"name": "meth"}, "mark": {"type": "line", "color": "black", "strokeWidth": 1}, "encoding": {"x": {"field": "k", "type": "quantitative"}, "y": {"field": "m", "type": "quantitative"}}},
 {"mark": {"type": "text", "text": "100", "fontSize": 16, "align": "right", "baseline": "middle"}, "encoding": {"x": {"datum": -4}, "y": {"datum": 85}}},
 {"mark": {"type": "text", "text": "0", "fontSize": 16, "align": "right", "baseline": "middle"}, "encoding": {"x": {"datum": -5}, "y": {"datum": 4.4}}},
 {"mark": {"type": "text", "text": "CpG methylation", "align": "right", "baseline": "middle"}, "encoding": {"x": {"datum": -19}, "y": {"datum": 64.4}}}
]},
{"width": 1248, "height": 117, "layer": [
 {"data": {"name": "hl"}, "mark": {"type": "rect", "color": "#f5f0e1"}, "encoding": {"x": {"field": "s", "type": "quantitative", "scale": {"domain": [-179, 445], "nice": false, "zero": false}}, "x2": {"field": "e"}}},
 {"data": {"name": "lines"}, "mark": {"type": "rect"}, "encoding": {"x": {"field": "s", "type": "quantitative"}, "x2": {"field": "e"}, "y": {"field": "r", "type": "nominal", "scale": {"type": "band", "domain": ["all LINES", "L1Hs", "L1PA2-3, L1P1", "L1PA4-6, L1P2", "L1PA7-9, L1P3", "L1PA10-17, L1P4, L1PREC2", "HAL1"], "paddingInner": 0, "paddingOuter": 0}}, "color": {"field": "c", "type": "nominal", "scale": {"domain": ["light", "mid", "dark", "darker", "hal"], "range": ["#adc9ef", "#3f7fd8", "#2461bd", "#1e4f9c", "#a6c4ee"]}, "legend": null}}},
 {"data": {"name": "seps"}, "mark": {"type": "rule", "color": "#999", "strokeWidth": 1.5}, "encoding": {"x": {"datum": 1}, "x2": {"datum": 445}, "y": {"field": "r", "type": "nominal", "bandPosition": 0}}},
 {"mark": {"type": "rule", "color": "#aaa", "strokeWidth": 1.5, "yOffset": 3}, "encoding": {"x": {"datum": 1}, "x2": {"datum": 445}, "y": {"datum": "L1PA10-17, L1P4, L1PREC2", "bandPosition": 0}}},
 {"mark": {"type": "rule", "color": "black", "strokeWidth": 1.5}, "encoding": {"x": {"datum": 1}, "x2": {"datum": 445}, "y": {"datum": "L1Hs", "bandPosition": 0}}},
 {"mark": {"type": "rule", "color": "black", "strokeWidth": 1.5}, "encoding": {"x": {"datum": -139}, "x2": {"datum": -17.5}, "y": {"datum": "L1Hs", "bandPosition": 0}}},
 {"mark": {"type": "rule", "color": "black", "strokeWidth": 1.5}, "encoding": {"x": {"datum": -139}, "y": {"datum": "L1Hs", "bandPosition": 0}, "y2": {"datum": "HAL1"}}},
 {"mark": {"type": "point", "shape": "triangle-down", "filled": true, "color": "black", "size": 30, "opacity": 1, "yOffset": 1}, "encoding": {"x": {"datum": -139}, "y": {"datum": "HAL1"}}},
 {"data": {"name": "rows"}, "mark": {"type": "text", "align": "right", "baseline": "middle", "fontSize": 18.5}, "encoding": {"x": {"datum": -17.5}, "y": {"field": "r", "type": "nominal"}, "text": {"field": "r"}}},
 {"mark": {"type": "text", "text": "young to old", "fontStyle": "italic", "fontSize": 16, "angle": 90, "align": "center", "baseline": "middle"}, "encoding": {"x": {"datum": -148.5}, "y": {"datum": "L1PA4-6, L1P2", "bandPosition": 1}}}
]}
]
}
